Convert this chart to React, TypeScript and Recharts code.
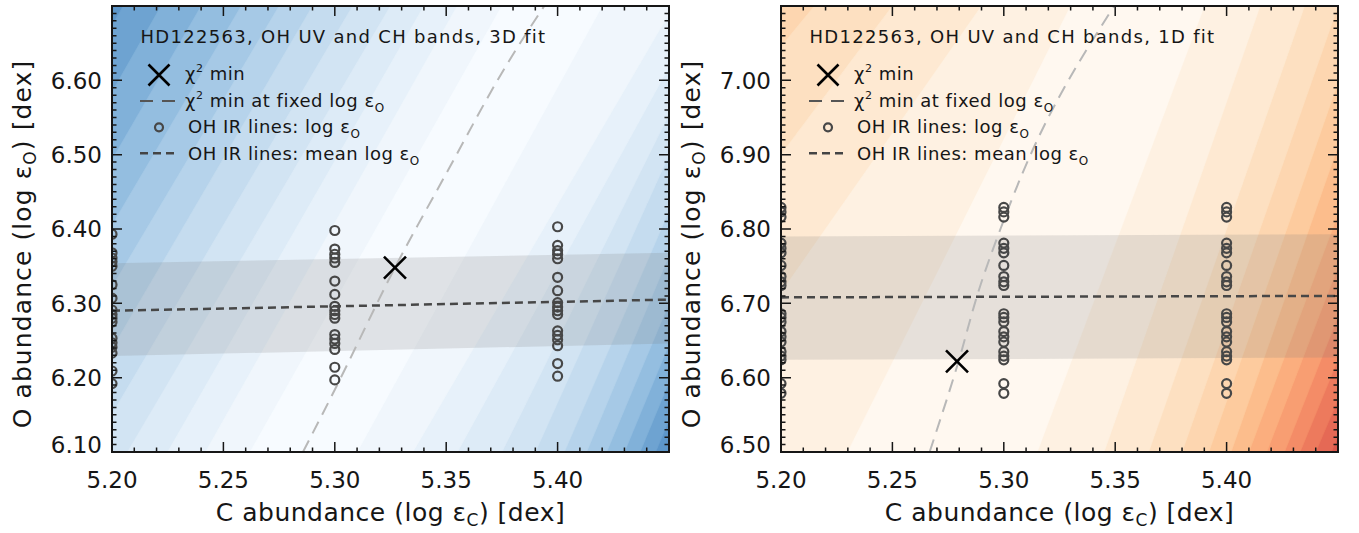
import React from 'react';
import { ComposedChart, Scatter, XAxis, YAxis, Legend } from 'recharts';

const FONT = '"DejaVu Sans", Verdana, sans-serif';
const INK = '#161616';

// layout of one panel (px, chart-local)
const CHART_W = 680;
const CHART_H = 533;
const PLOT_L = 112;
const PLOT_T = 6;
const PLOT_R = 669;
const PLOT_B = 452;

// axes
const xDomain: [number, number] = [5.2, 5.45];
const xMajor = [5.2, 5.25, 5.3, 5.35, 5.4];
const yDomain3D: [number, number] = [6.1, 6.7];
const yMajor3D = [6.1, 6.2, 6.3, 6.4, 6.5, 6.6];
const yDomain1D: [number, number] = [6.5, 7.1];
const yMajor1D = [6.5, 6.6, 6.7, 6.8, 6.9, 7.0];

// OH IR lines: log eps_O, drawn at each C grid value
const ohIR3D_520 = [6.393, 6.368, 6.361, 6.356, 6.35, 6.325, 6.307, 6.291, 6.285, 6.28, 6.275, 6.253, 6.247, 6.241, 6.233, 6.209, 6.192];
const ohIR3D_530 = [6.398, 6.373, 6.366, 6.361, 6.355, 6.33, 6.312, 6.296, 6.29, 6.285, 6.28, 6.258, 6.252, 6.246, 6.238, 6.214, 6.197];
const ohIR3D_540 = [6.403, 6.378, 6.371, 6.366, 6.36, 6.335, 6.317, 6.301, 6.295, 6.29, 6.285, 6.263, 6.257, 6.251, 6.243, 6.219, 6.202];
const ohIR1D = [6.829, 6.823, 6.816, 6.781, 6.774, 6.768, 6.751, 6.736, 6.729, 6.724, 6.686, 6.681, 6.675, 6.662, 6.655, 6.648, 6.635, 6.629, 6.624, 6.592, 6.579];

// chi2 minimum
const chiMin3D = { x: 5.327, y: 6.348 };
const chiMin1D = { x: 5.279, y: 6.622 };

// chi2 minimum at fixed log eps_O
const valley3D_C = [5.2857, 5.306, 5.327, 5.351, 5.373, 5.394];
const valley3D_O = [6.1, 6.22, 6.348, 6.48, 6.6, 6.7];
const valley1D_C = [5.2667, 5.2795, 5.288, 5.2985, 5.312, 5.329, 5.3495];
const valley1D_O = [6.5, 6.62, 6.71, 6.8, 6.9, 7.0, 7.1];

// mean OH IR abundance and its spread
const mean3D_C = [5.2, 5.45];
const mean3D_O = [6.29, 6.305];
const mean1D_C = [5.2, 5.45];
const mean1D_O = [6.708, 6.71];
const band3D_C = [5.2, 5.45, 5.45, 5.2];
const band3D_O = [6.354, 6.368, 6.246, 6.229];
const band1D_C = [5.2, 5.45, 5.45, 5.2];
const band1D_O = [6.79, 6.793, 6.627, 6.624];

// chi2 contour boundaries: C where each level crosses the bottom / top edge,
// on the low-C and high-C side of the valley
const c3D_loBottom = [5.262, 5.242, 5.225, 5.207, 5.19, 5.173, 5.156, 5.14, 5.124, 5.108, 5.092, 5.076];
const c3D_loTop = [5.375, 5.355, 5.34, 5.325, 5.308, 5.29, 5.275, 5.258, 5.24, 5.222, 5.205, 5.188];
const c3D_hiBottom = [5.31, 5.335, 5.355, 5.375, 5.39, 5.403, 5.413, 5.422, 5.43, 5.437, 5.444, 5.451];
const c3D_hiTop = [5.42, 5.452, 5.465, 5.474, 5.48, 5.49, 5.497, 5.506, 5.513, 5.52, 5.527, 5.534];

const c1D_loBottom = [5.23, 5.15, 5.1, 5.05, 5.0, 4.95, 4.9, 4.85, 4.8, 4.75, 4.7, 4.65];
const c1D_loTop = [5.33, 5.29, 5.25, 5.215, 5.19, 5.15, 5.05, 5.0, 4.95, 4.9, 4.85, 4.8];
const c1D_hiBottom = [5.315, 5.345, 5.365, 5.38, 5.392, 5.402, 5.41, 5.418, 5.426, 5.433, 5.44, 5.447];
const c1D_hiTop = [5.39, 5.415, 5.435, 5.45, 5.462, 5.472, 5.485, 5.495, 5.505, 5.515, 5.525, 5.535];

const blues = ['#f7fbff', '#f0f6fc', '#e7f1fa', '#ddebf7', '#d2e4f3', '#c5dcef', '#b6d3eb', '#a6c9e6', '#94bee0', '#81b1d9', '#6ea3d1', '#5d96c9', '#4c89c2'];
const oranges = ['#fff8f0', '#fef1e2', '#fee9d2', '#fde0c1', '#fdd6b0', '#fdcb9e', '#fcbd8c', '#fbae7e', '#f89e72', '#f48c67', '#ed7a5d', '#e56955', '#db584c'];

const steps = (lo: number, hi: number, step: number) => {
  const out: number[] = [];
  const n = Math.round((hi - lo) / step);
  for (let i = 0; i <= n; i++) out.push(Number((lo + i * step).toFixed(3)));
  return out;
};

const near = (v: number, list: number[]) => list.some((m) => Math.abs(m - v) < 1e-6);
const pts = (xs: number[], ys: number[]) => xs.map((x, i) => ({ x, y: ys[i] }));

const MAJOR = 10;
const MINOR = 4.5;

const nothing = () => <g />;

const ring = (p: any) => (
  <circle cx={p.cx} cy={p.cy} r={4.5} fill="none" stroke="#474747" strokeWidth={2.2} />
);

const cross = (p: any) => (
  <path
    d={`M${p.cx - 11},${p.cy - 11}L${p.cx + 11},${p.cy + 11}M${p.cx + 11},${p.cy - 11}L${p.cx - 11},${p.cy + 11}`}
    stroke="#000"
    strokeWidth={2.6}
  />
);

// frame with inward tick marks on all four sides (IDL style), laid over the plot
const FrameTicks = ({ yDomain, yMajor }: { yDomain: [number, number]; yMajor: number[] }) => {
  const [x0, x1] = xDomain;
  const [y0, y1] = yDomain;
  const sx = (v: number) => PLOT_L + ((v - x0) / (x1 - x0)) * (PLOT_R - PLOT_L);
  const sy = (v: number) => PLOT_B - ((v - y0) / (y1 - y0)) * (PLOT_B - PLOT_T);
  let d = '';
  steps(x0, x1, 0.01).forEach((v) => {
    const len = near(v, xMajor) ? MAJOR : MINOR;
    const x = sx(v);
    d += `M${x},${PLOT_B}v${-len}M${x},${PLOT_T}v${len}`;
  });
  steps(y0, y1, 0.01).forEach((v) => {
    const len = near(v, yMajor) ? MAJOR : MINOR;
    const y = sy(v);
    d += `M${PLOT_L},${y}h${len}M${PLOT_R},${y}h${-len}`;
  });
  return (
    <svg
      width={CHART_W}
      height={CHART_H}
      style={{ position: 'absolute', left: 0, top: 0, pointerEvents: 'none' }}
    >
      <path d={d} fill="none" stroke={INK} strokeWidth={1.5} />
      <rect
        x={PLOT_L}
        y={PLOT_T}
        width={PLOT_R - PLOT_L}
        height={PLOT_B - PLOT_T}
        fill="none"
        stroke={INK}
        strokeWidth={2}
      />
    </svg>
  );
};

interface PanelProps {
  title: string;
  yDomain: [number, number];
  yMajor: number[];
  columns: { c: number; o: number[] }[];
  chiMin: { x: number; y: number };
  valleyC: number[];
  valleyO: number[];
  meanC: number[];
  meanO: number[];
  bandC: number[];
  bandO: number[];
  loBottom: number[];
  loTop: number[];
  hiBottom: number[];
  hiTop: number[];
  palette: string[];
}

const LegendBox = ({ title }: { title: string }) => (
  <svg width={440} height={160} style={{ overflow: 'visible', display: 'block' }}>
    <g fontFamily={FONT} fill={INK} fontSize={18}>
      <text x={12.5} y={28.7} style={{ letterSpacing: '1.3px' }}>{title}</text>
      <path d="M20.5,50.5L41.5,71.5M41.5,50.5L20.5,71.5" stroke="#000" strokeWidth={2.6} />
      <text x={57} y={66} style={{ letterSpacing: '0.5px' }}>
        χ<tspan fontSize={11} dy={-8}>2</tspan>
        <tspan dy={8}> min</tspan>
      </text>
      <line x1={12} x2={47} y1={87} y2={87} stroke="#555" strokeWidth={2} strokeDasharray="13 9" />
      <text x={57} y={93} style={{ letterSpacing: '0.5px' }}>
        χ<tspan fontSize={11} dy={-8}>2</tspan>
        <tspan dy={8}> min at fixed log ε</tspan>
        <tspan fontSize={12} dy={5}>O</tspan>
      </text>
      <circle cx={31} cy={113.3} r={4} fill="none" stroke="#474747" strokeWidth={2.2} />
      <text x={60} y={119.3} style={{ letterSpacing: '0.5px' }}>
        OH IR lines: log ε<tspan fontSize={12} dy={5}>O</tspan>
      </text>
      <line x1={12} x2={47} y1={139.3} y2={139.3} stroke="#444" strokeWidth={2.5} strokeDasharray="8 5" />
      <text x={60} y={146} style={{ letterSpacing: '0.5px' }}>
        OH IR lines: mean log ε<tspan fontSize={12} dy={5}>O</tspan>
      </text>
    </g>
  </svg>
);

const Panel = (props: PanelProps) => {
  const { yDomain, yMajor, palette } = props;
  const [y0, y1] = yDomain;
  const [x0, x1] = xDomain;

  const levels = palette
    .map((color, m) => {
      if (m === palette.length - 1) {
        return { color, data: [{ x: x0, y: y0 }, { x: x1, y: y0 }, { x: x1, y: y1 }, { x: x0, y: y1 }] };
      }
      return {
        color,
        data: [
          { x: props.loBottom[m], y: y0 },
          { x: props.loTop[m], y: y1 },
          { x: props.hiTop[m], y: y1 },
          { x: props.hiBottom[m], y: y0 },
        ],
      };
    })
    .reverse();

  const bottomLabel = (p: any) => {
    const v = p.payload.value;
    return (
      <text x={p.x} y={p.y + 36} textAnchor="middle" fontFamily={FONT} fontSize={23} fill={INK}>
        {v.toFixed(2)}
      </text>
    );
  };
  const leftLabel = (p: any) => {
    const v = p.payload.value;
    const shift = Math.abs(v - y0) < 1e-6 ? -7 : 0;
    return (
      <text x={p.x - 10} y={p.y + 8.3 + shift} textAnchor="end" fontFamily={FONT} fontSize={23} fill={INK}>
        {v.toFixed(2)}
      </text>
    );
  };

  const xTitle = () => (
    <text x={(PLOT_L + PLOT_R) / 2} y={521} textAnchor="middle" fontFamily={FONT} fontSize={25} fill={INK} style={{ letterSpacing: '0.5px' }}>
      C abundance (log ε<tspan fontSize={17} dy={5}>C</tspan>
      <tspan dy={-5}>) [dex]</tspan>
    </text>
  );
  const yTitle = () => (
    <text
      x={31}
      y={244}
      transform="rotate(-90 31 244)"
      textAnchor="middle"
      fontFamily={FONT}
      fontSize={25}
      fill={INK}
      style={{ letterSpacing: '1.1px' }}
    >
      O abundance (log ε<tspan fontSize={17} dy={5}>O</tspan>
      <tspan dy={-5}>) [dex]</tspan>
    </text>
  );

  const axisLine = { stroke: INK, strokeWidth: 2 };

  return (
    <div style={{ position: 'relative', width: CHART_W, height: CHART_H }}>
      <ComposedChart
        width={CHART_W}
        height={CHART_H}
        margin={{ top: PLOT_T, right: CHART_W - PLOT_R, bottom: 0, left: 0 }}
      >
        {levels.map((lv, i) => (
          <Scatter
            key={`lv${i}`}
            data={lv.data}
            shape={nothing}
            line={{ fill: lv.color, stroke: lv.color, strokeWidth: 0.6 }}
            isAnimationActive={false}
          />
        ))}
        <Scatter
          data={pts(props.bandC, props.bandO)}
          shape={nothing}
          line={{ fill: '#7a7a7a', fillOpacity: 0.19, stroke: 'none' }}
          isAnimationActive={false}
        />
        <Scatter
          data={pts(props.meanC, props.meanO)}
          shape={nothing}
          line={{ fill: 'none', stroke: '#474747', strokeWidth: 2.5, strokeDasharray: '8 5' }}
          isAnimationActive={false}
        />
        <Scatter
          data={pts(props.valleyC, props.valleyO)}
          shape={nothing}
          lineJointType="natural"
          line={{ fill: 'none', stroke: '#b8b8b8', strokeWidth: 2, strokeDasharray: '13 8' }}
          isAnimationActive={false}
        />
        {props.columns.map((col) => (
          <Scatter
            key={`col${col.c}`}
            data={col.o.map((o) => ({ x: col.c, y: o }))}
            shape={ring}
            isAnimationActive={false}
          />
        ))}
        <Scatter data={[props.chiMin]} shape={cross} isAnimationActive={false} />

        <XAxis
          dataKey="x"
          type="number"
          domain={xDomain}
          allowDataOverflow
          ticks={xMajor}
          interval={0}
          tickLine={false}
          tickSize={0}
          tickMargin={0}
          tick={bottomLabel}
          axisLine={axisLine}
          height={CHART_H - PLOT_B}
          label={xTitle}
        />
        <XAxis
          xAxisId="top"
          orientation="top"
          type="number"
          domain={xDomain}
          allowDataOverflow
          tick={false}
          tickLine={false}
          axisLine={axisLine}
          height={0}
        />
        <YAxis
          dataKey="y"
          type="number"
          domain={yDomain}
          allowDataOverflow
          ticks={yMajor}
          interval={0}
          tickLine={false}
          tickSize={0}
          tickMargin={0}
          tick={leftLabel}
          axisLine={axisLine}
          width={PLOT_L}
          label={yTitle}
        />
        <YAxis
          yAxisId="right"
          orientation="right"
          type="number"
          domain={yDomain}
          allowDataOverflow
          tick={false}
          tickLine={false}
          axisLine={axisLine}
          width={0}
        />
        <Legend
          layout="horizontal"
          verticalAlign="middle"
          align="center"
          content={() => <LegendBox title={props.title} />}
          wrapperStyle={{ left: 128, top: 14, width: 440, height: 160 }}
        />
      </ComposedChart>
      <FrameTicks yDomain={yDomain} yMajor={yMajor} />
    </div>
  );
};

export default function App() {
  return (
    <div style={{ position: 'absolute', left: 0, top: 0, width: 1359, height: 533, background: '#fff' }}>
      <div style={{ position: 'absolute', left: 0, top: 0 }}>
        <Panel
          title="HD122563, OH UV and CH bands, 3D fit"
          yDomain={yDomain3D}
          yMajor={yMajor3D}
          columns={[
            { c: 5.2, o: ohIR3D_520 },
            { c: 5.3, o: ohIR3D_530 },
            { c: 5.4, o: ohIR3D_540 },
          ]}
          chiMin={chiMin3D}
          valleyC={valley3D_C}
          valleyO={valley3D_O}
          meanC={mean3D_C}
          meanO={mean3D_O}
          bandC={band3D_C}
          bandO={band3D_O}
          loBottom={c3D_loBottom}
          loTop={c3D_loTop}
          hiBottom={c3D_hiBottom}
          hiTop={c3D_hiTop}
          palette={blues}
        />
      </div>
      <div style={{ position: 'absolute', left: 669, top: 0 }}>
        <Panel
          title="HD122563, OH UV and CH bands, 1D fit"
          yDomain={yDomain1D}
          yMajor={yMajor1D}
          columns={[
            { c: 5.2, o: ohIR1D },
            { c: 5.3, o: ohIR1D },
            { c: 5.4, o: ohIR1D },
          ]}
          chiMin={chiMin1D}
          valleyC={valley1D_C}
          valleyO={valley1D_O}
          meanC={mean1D_C}
          meanO={mean1D_O}
          bandC={band1D_C}
          bandO={band1D_O}
          loBottom={c1D_loBottom}
          loTop={c1D_loTop}
          hiBottom={c1D_hiBottom}
          hiTop={c1D_hiTop}
          palette={oranges}
        />
      </div>
    </div>
  );
}
